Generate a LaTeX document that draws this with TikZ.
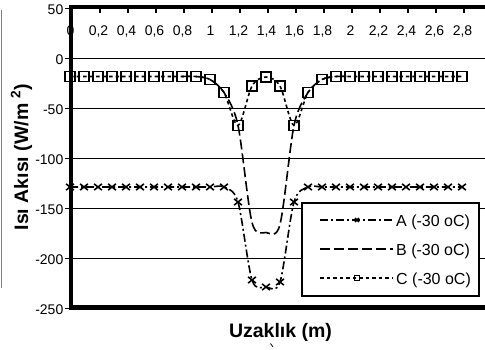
\documentclass[tikz,border=0pt]{standalone}
\usepackage{fontspec}
\setmainfont{Liberation Sans}
\usetikzlibrary{plotmarks}

\tikzset{
  gridline/.style={line width=1.6pt},
  thickaxis/.style={line width=4.2pt},
  seriesA/.style={line width=1.6pt, dash pattern=on 8pt off 3pt on 2pt off 3pt},
  seriesB/.style={line width=1.6pt, dash pattern=on 10pt off 4pt},
  seriesC/.style={line width=1.6pt, dash pattern=on 3.5pt off 3pt},
  ticklabel/.style={font=\fontsize{14}{16}\selectfont, inner sep=0pt},
  axistitle/.style={font=\fontsize{19.5}{22}\selectfont\bfseries, inner sep=0pt},
  legendtext/.style={font=\fontsize{16}{18}\selectfont, inner sep=0pt, anchor=base west},
}

\begin{document}
\begin{tikzpicture}[x=1pt, y=-1pt]
  \useasboundingbox[fill=white] (0,0) rectangle (485,350);
  % frame edge on the left
  \draw[gray, line width=1pt] (1.5,10) -- (1.5,288);
  % horizontal grid
  \foreach \v in {0,50,...,200}
    \draw[gridline] (70,58.5+\v) -- (485,58.5+\v);
  % value axis
  \foreach \v in {50,0,...,-250} {
    \draw[line width=1.4pt] (65,58.5-\v) -- (70,58.5-\v);
    \node[ticklabel, anchor=east] (yl\v) at (63.5,59.5-\v) {\v};
  }
  % distance axis
  \foreach \i/\t in {0/0,2/{0,2},4/{0,4},6/{0,6},8/{0,8},10/1,12/{1,2},14/{1,4},
                     16/{1,6},18/{1,8},20/2,22/{2,2},24/{2,4},26/{2,6},28/{2,8}}
    \node[ticklabel, anchor=base] (xl\i) at (70.5+14*\i,35.5) {\t};
  \foreach \i in {2,4,...,28}
    \draw[line width=1.4pt] (72+14*\i,7) -- (72+14*\i,13);

  \begin{scope}[shift={(70pt,-58.5pt)}, x=140pt, y=1pt]
    \draw[seriesC] plot[smooth, tension=0.5, mark=square, mark size=5pt, mark options={solid}]
      coordinates {(0,-18) (0.1,-18) (0.2,-18) (0.3,-18) (0.4,-18) (0.5,-18) (0.6,-18)
        (0.7,-18) (0.8,-18) (0.9,-18) (1.0,-21) (1.1,-34) (1.2,-67) (1.3,-27.5) (1.4,-18.5)
        (1.5,-27.5) (1.6,-67) (1.7,-34) (1.8,-21) (1.9,-18) (2.0,-18) (2.1,-18) (2.2,-18)
        (2.3,-18) (2.4,-18) (2.5,-18) (2.6,-18) (2.7,-18) (2.8,-18)};
    \draw[seriesB] plot[smooth, tension=0.5]
      coordinates {(0.8,-18) (0.9,-18) (1.0,-21) (1.1,-34) (1.2,-67) (1.3,-164) (1.4,-174)
        (1.5,-166) (1.6,-67) (1.7,-34) (1.8,-21) (1.9,-18) (2.0,-18)};
    \draw[seriesA] plot[smooth, tension=0.5, mark=x, mark size=5.5pt, mark options={solid, yscale=0.8}]
      coordinates {(0,-128.5) (0.1,-128.5) (0.2,-128.5) (0.3,-128.5) (0.4,-128.5) (0.5,-128.5)
        (0.6,-128.5) (0.7,-128.5) (0.8,-128.5) (0.9,-128.5) (1.0,-128.5) (1.1,-128.5)
        (1.2,-143.5) (1.3,-221.5) (1.4,-228.5) (1.5,-223.5) (1.6,-143.5) (1.7,-128.5)
        (1.8,-128.5) (1.9,-128.5) (2.0,-128.5) (2.1,-128.5) (2.2,-128.5) (2.3,-128.5)
        (2.4,-128.5) (2.5,-128.5) (2.6,-128.5) (2.7,-128.5) (2.8,-128.5)};
  \end{scope}

  % axes
  \draw[thickaxis] (71.3,4.9) -- (71.3,309.6);
  \draw[thickaxis] (69.2,7) -- (485,7);
  \draw[thickaxis] (69.2,307.5) -- (485,307.5);

  % legend
  \draw[line width=1.5pt, fill=white] (302,203) rectangle (479,296);
  \draw[seriesA] (320,220) -- (393,220);
  \draw[line width=1.6pt] plot[only marks, mark=x, mark size=2.8pt] coordinates {(357,220)};
  \node[legendtext] (legA) at (396,226) {A (-30 oC)};
  \draw[seriesB] (320,249) -- (393,249);
  \node[legendtext] (legB) at (396,255) {B (-30 oC)};
  \draw[seriesC] (320,278) -- (393,278);
  \draw[line width=1.6pt] plot[only marks, mark=square, mark size=2.6pt] coordinates {(357,278)};
  \node[legendtext] (legC) at (396,284) {C (-30 oC)};

  % axis titles
  \node[axistitle, anchor=base] (xtitle) at (280.5,337) {Uzaklık (m)};
  \node[axistitle, rotate=90, anchor=base] (ytitle) at (28,157) {Isı Akısı (W/m \textsuperscript{2})};
  \draw[line width=0.8pt] (270.5,343.5) -- (273,347);
\end{tikzpicture}
\end{document}
